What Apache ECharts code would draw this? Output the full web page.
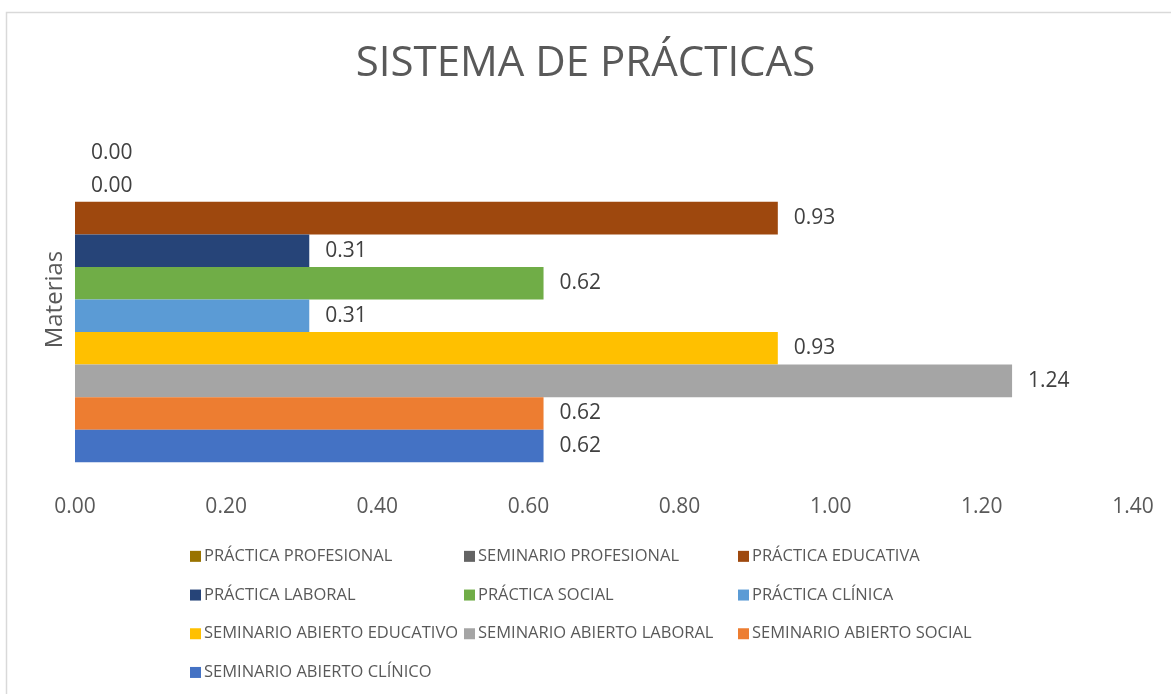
<!DOCTYPE html>
<html>
<head>
    <meta charset="UTF-8">
    <title>Sistema de prácticas</title>
    <script src="https://cdn.jsdelivr.net/npm/echarts@6/dist/echarts.min.js"></script>
    <style>
        html, body { margin: 0; padding: 0; background: #fff; }
        #chart { width: 1171px; height: 694px; }
    </style>
</head>
<body>
<div id="chart"></div>
<script>
    // datos (orden de la leyenda = de arriba hacia abajo)
    var materias = [
        'PRÁCTICA PROFESIONAL', 'SEMINARIO PROFESIONAL', 'PRÁCTICA EDUCATIVA',
        'PRÁCTICA LABORAL', 'PRÁCTICA SOCIAL', 'PRÁCTICA CLÍNICA',
        'SEMINARIO ABIERTO EDUCATIVO', 'SEMINARIO ABIERTO LABORAL', 'SEMINARIO ABIERTO SOCIAL',
        'SEMINARIO ABIERTO CLÍNICO'
    ];
    var valores = [0.00, 0.00, 0.93, 0.31, 0.62, 0.31, 0.93, 1.24, 0.62, 0.62];
    var colores = ['#997300', '#636363', '#9E480E', '#264478', '#70AD47', '#5B9BD5',
        '#FFC000', '#A5A5A5', '#ED7D31', '#4472C4'];
    var categorias = [''];

    var fuente = '"Open Sans", sans-serif';

    var series = materias.map(function (nombre, i) {
        return {
            name: nombre,
            type: 'bar',
            data: [valores[i]],
            barGap: '0%',
            barCategoryGap: '18%',
            itemStyle: {color: colores[i]},
            label: {
                show: true,
                position: 'right',
                distance: 16,
                color: '#404040',
                fontFamily: fuente,
                fontSize: 21,
                formatter: function (p) { return p.value.toFixed(2); }
            }
        };
    });

    var myChart = echarts.init(document.getElementById('chart'));
    var option = {
        animation: false,
        title: {
            text: 'SISTEMA DE PRÁCTICAS',
            left: 'center',
            top: 38,
            textStyle: {color: '#595959', fontFamily: fuente, fontWeight: 'normal', fontSize: 42}
        },
        graphic: [{
            type: 'rect',
            shape: {x: 6.5, y: 12.5, width: 1300, height: 900},
            style: {fill: 'none', stroke: '#d9d9d9', lineWidth: 1.5}
        }],
        legend: {
            data: materias,
            left: 185,
            top: 532,
            width: 840,
            itemWidth: 11,
            itemHeight: 11,
            itemGap: 0,
            icon: 'rect',
            textStyle: {
                color: '#595959',
                fontFamily: fuente,
                fontSize: 16.5,
                width: 260,
                lineHeight: 38.7,
                padding: [0, 0, 0, -2]
            }
        },
        grid: {left: 75, right: 38, top: 101, bottom: 196},
        xAxis: {
            type: 'value',
            min: 0,
            max: 1.4,
            interval: 0.2,
            splitLine: {show: false},
            axisLine: {show: false},
            axisTick: {show: false},
            axisLabel: {
                color: '#595959',
                fontFamily: fuente,
                fontSize: 21,
                margin: -1,
                formatter: function (v) { return v.toFixed(2); }
            }
        },
        yAxis: {
            type: 'category',
            data: categorias,
            name: 'Materias',
            nameLocation: 'middle',
            nameRotate: 90,
            nameGap: 8,
            nameTextStyle: {color: '#595959', fontFamily: fuente, fontSize: 24},
            axisLine: {show: false},
            axisTick: {show: false},
            axisLabel: {show: false}
        },
        series: series
    };
    myChart.setOption(option);
</script>
</body>
</html>
